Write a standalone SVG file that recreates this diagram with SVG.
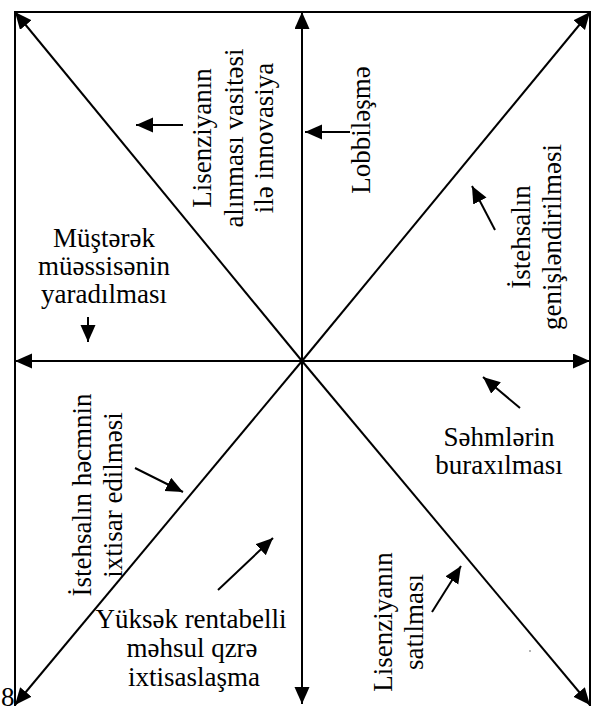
<svg xmlns="http://www.w3.org/2000/svg" width="598" height="706" viewBox="0 0 598 706">
  <style>
    .t { font-family: 'Liberation Serif', 'Tinos', 'DejaVu Serif', serif; font-size: 27px; fill: #000; }
    .c { text-anchor: middle; }
    .ln { stroke: #000; stroke-width: 2; fill: none; }
    .ax { stroke: #000; stroke-width: 2; fill: none; marker-end: url(#head); marker-start: url(#head); }
    .pt { stroke: #000; stroke-width: 2; fill: none; marker-end: url(#head); }
  </style>
  <defs>
    <marker id="head" markerUnits="userSpaceOnUse" markerWidth="18" markerHeight="16" refX="17" refY="7.5" orient="auto-start-reverse">
      <path d="M0,0 L17,7.5 L0,15 z" fill="#000"/>
    </marker>
  </defs>
  <rect width="598" height="706" fill="#fff"/>

  <!-- frame -->
  <g id="frame">
    <line class="ln" x1="14" y1="12" x2="591" y2="12"/>
    <line class="ln" x1="15" y1="11" x2="15" y2="706"/>
    <line class="ln" x1="590" y1="11" x2="590" y2="706"/>
  </g>

  <!-- connectors: axes and pointer arrows -->
  <g id="connectors">
    <line class="ax" x1="15" y1="361" x2="590" y2="361"/>
    <line class="ax" x1="302" y1="12" x2="302" y2="704"/>
    <line class="pt" x1="302" y1="361" x2="15" y2="12"/>
    <line class="pt" x1="302" y1="361" x2="590" y2="12"/>
    <line class="pt" x1="302" y1="361" x2="15" y2="705"/>
    <line class="pt" x1="302" y1="361" x2="590" y2="705"/>

    <line class="pt" x1="183" y1="125" x2="136" y2="125"/>
    <line class="pt" x1="350" y1="132" x2="305" y2="132"/>
    <line class="pt" x1="495" y1="230" x2="472" y2="186"/>
    <line class="pt" x1="88" y1="317" x2="88" y2="342"/>
    <line class="pt" x1="135" y1="468" x2="183" y2="492"/>
    <line class="pt" x1="520" y1="408" x2="483" y2="377"/>
    <line class="pt" x1="432" y1="612" x2="461" y2="566"/>
    <line class="pt" x1="218" y1="590" x2="273" y2="538"/>
  </g>

  <g font-family="'Liberation Serif', 'Tinos', 'DejaVu Serif', serif">
  <g id="licence-purchase">
    <text class="t c" transform="translate(211,138) rotate(-90)">Lisenziyanın</text>
    <text class="t c" transform="translate(243,138) rotate(-90)">alınması vasitəsi</text>
    <text class="t c" transform="translate(273,138) rotate(-90)">ilə innovasiya</text>
  </g>

  <g id="lobbying">
    <text class="t c" transform="translate(370,130) rotate(-90)">Lobbiləşmə</text>
  </g>

  <g id="expansion">
    <text class="t c" transform="translate(530,237) rotate(-90)">İstehsalın</text>
    <text class="t c" transform="translate(561,237) rotate(-90)">genişləndirilməsi</text>
  </g>

  <g id="joint-venture">
    <text class="t c" x="104" y="247">Müştərək</text>
    <text class="t c" x="104" y="275">müəssisənin</text>
    <text class="t c" x="104" y="303">yaradılması</text>
  </g>

  <g id="share-issue">
    <text class="t c" x="499" y="446">Səhmlərin</text>
    <text class="t c" x="499" y="474">buraxılması</text>
  </g>

  <g id="reduction">
    <text class="t c" transform="translate(91,495) rotate(-90)">İstehsalın həcmnin</text>
    <text class="t c" transform="translate(122,495) rotate(-90)">ixtisar edilməsi</text>
  </g>

  <g id="licence-sale">
    <text class="t c" transform="translate(392,622) rotate(-90)">Lisenziyanın</text>
    <text class="t c" transform="translate(423,622) rotate(-90)">satılması</text>
  </g>

  <g id="specialisation">
    <text class="t c" x="191" y="628">Yüksək rentabelli</text>
    <text class="t c" x="192" y="657">məhsul qzrə</text>
    <text class="t c" x="194" y="686">ixtisaslaşma</text>
  </g>

  <text class="t" x="1" y="706">8</text>
  </g>
  <circle cx="530" cy="651" r="0.8" fill="#555"/>
</svg>
